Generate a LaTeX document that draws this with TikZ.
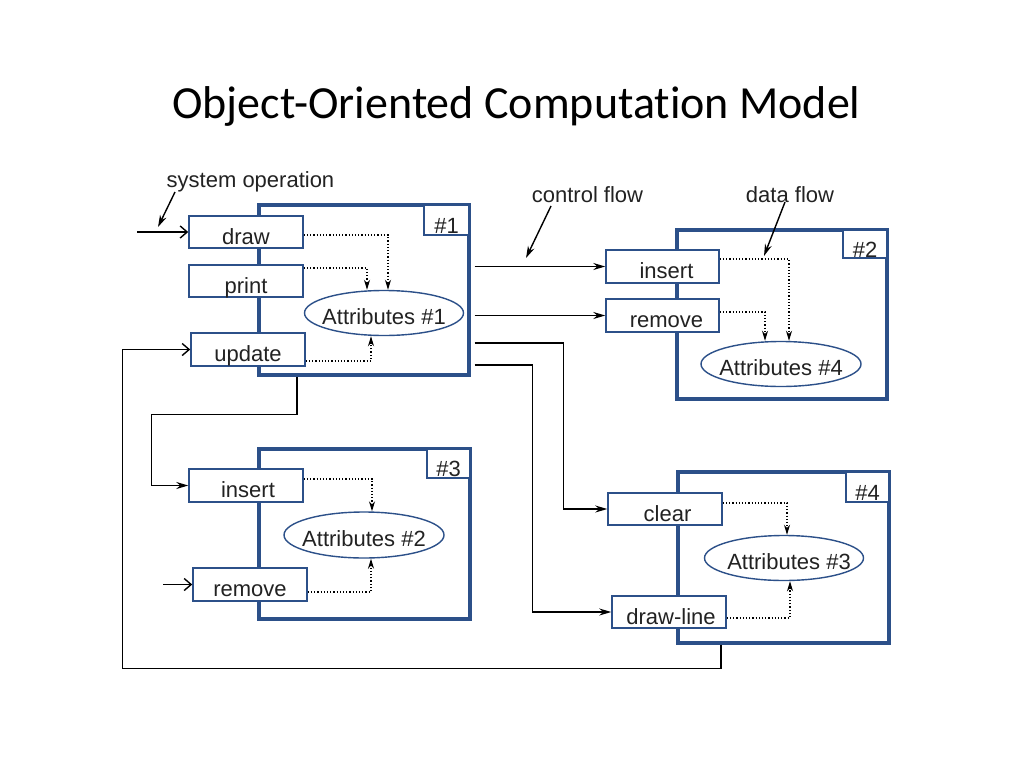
\documentclass[tikz,border=0pt]{standalone}
\usepackage{fontspec}
\setmainfont{Liberation Sans}
\newfontfamily\titlefont[Ligatures={NoCommon,NoRare}]{Carlito}
\usetikzlibrary{arrows.meta,calc,shapes.geometric}
\definecolor{frameblue}{HTML}{2C5089}
\definecolor{txt}{HTML}{222222}
\begin{document}
\begin{tikzpicture}[x=1pt,y=-1pt,
  lblfont/.style={font=\fontsize{22}{24}\selectfont},
  frm/.style={draw=frameblue,line width=3.2pt,rectangle,inner sep=0pt},
  tagbox/.style={draw=frameblue,line width=1.5pt,fill=white,inner sep=0pt,text height=26pt,text depth=0pt,lblfont,text=txt},
  op/.style={draw=frameblue,line width=1.5pt,fill=white,inner sep=0pt,minimum width=114pt,minimum height=32pt,text height=24pt,text depth=0pt,lblfont,text=txt},
  attr/.style={draw=frameblue,line width=1.4pt,ellipse,inner sep=0pt,minimum width=160pt,minimum height=45pt},
  attrtext/.style={inner sep=0pt,text height=22pt,text depth=0pt,lblfont,text=txt},
  cf/.style={line width=1.4pt,-{Stealth[length=12pt,width=7pt,inset=4pt]}},
  inp/.style={line width=1.4pt,-{Straight Barb[length=7pt,width=12pt]}},
  df/.style={line width=1.2pt,dotted,-{Stealth[length=10pt,width=6pt,inset=3pt]}},
  ann/.style={line width=1.4pt,-{Stealth[length=12pt,width=7pt,inset=4pt]}},
  lbl/.style={lblfont,text=txt,inner sep=0pt,anchor=base}]
\fill[white] (0,0) rectangle (1024,768);
\useasboundingbox (0,0) rectangle (1024,768);

\node[anchor=base,inner sep=0pt,font=\titlefont\fontsize{46}{50}\selectfont] (title) at (516.5,118) {Object-Oriented Computation Model};

% frames
\node[frm,minimum width=210pt,minimum height=170pt] (f1) at (364,290) {};
\node[frm,minimum width=210pt,minimum height=169pt] (f2) at (782,314.5) {};
\node[frm,minimum width=211pt,minimum height=170pt] (f3) at (364.5,534) {};
\node[frm,minimum width=211pt,minimum height=171pt] (f4) at (783.5,557.5) {};

% tags
\node[tagbox,minimum width=45pt,minimum height=30pt] (tag1) at (446.5,220) {\#1};
\node[tagbox,minimum width=44pt,minimum height=28pt] (tag2) at (865,244) {\#2};
\node[tagbox,minimum width=43pt,minimum height=29pt] (tag3) at (448.5,463.5) {\#3};
\node[tagbox,minimum width=43pt,minimum height=30pt] (tag4) at (867.5,487) {\#4};

% operations
\node[op] (o1draw) at (246,232) {draw};
\node[op] (o1print) at (246,281) {print};
\node[op,minimum height=33pt] (o1update) at (248,349.5) {update};
\node[op,minimum width=113pt,minimum height=33pt] (o2insert) at (662.5,266.5) {\hspace*{8pt}insert};
\node[op,minimum width=113pt,minimum height=33pt] (o2remove) at (662.5,315.5) {\hspace*{8pt}remove};
\node[op,minimum height=33pt] (o3insert) at (246,485.5) {\hspace*{4pt}insert};
\node[op,minimum height=33pt] (o3remove) at (250,584.5) {remove};
\node[op] (o4clear) at (665,509) {\hspace*{5pt}clear};
\node[op] (o4drawline) at (669,612) {\hspace*{4pt}draw-line};

% attributes
\node[attr,minimum width=159pt] (a1) at (384,313) {};
\node[attrtext] (a1t) at (a1) {Attributes \#1};
\node[attr] (a4) at (781,364) {};
\node[attrtext] (a4t) at (a4) {Attributes \#4};
\node[attr,minimum height=46pt] (a2) at (364,535) {};
\node[attrtext] (a2t) at (a2) {Attributes \#2};
\node[attr,minimum width=159pt] (a3) at (784,558) {};
\node[attrtext] (a3t) at ([xshift=5pt]a3.center) {Attributes \#3};

% data flow (dotted)
\draw[df] ([yshift=-3pt]o1draw.east) -| ([xshift=4pt]a1.north);
\draw[df] ([yshift=13pt]o1print.east) -| ([xshift=-17pt]a1.north);
\draw[df] ([yshift=-11.5pt]o1update.east) -| ([xshift=-13pt]a1.south);
\draw[df] ([yshift=7.5pt]o2insert.east) -| ([xshift=8pt]a4.north);
\draw[df] ([yshift=3.5pt]o2remove.east) -| ([xshift=-16pt]a4.north);
\draw[df] ([yshift=6.5pt]o3insert.east) -| ([xshift=8pt]a2.north);
\draw[df] ([yshift=-7.5pt]o3remove.east) -| ([xshift=7pt]a2.south);
\draw[df] ([yshift=6pt]o4clear.east) -| ([xshift=3pt]a3.north);
\draw[df] ([yshift=-6pt]o4drawline.east) -| ([xshift=6pt]a3.south);

% control flow
\draw[cf] ($(f1.east |- o2insert.west)+(4,0)$) -- (o2insert.west);
\draw[cf] ($(f1.east |- o2remove.west)+(4,0)$) -- (o2remove.west);
\draw[cf] ($(f1.east)+(4,53)$) -| ($(o4clear.west)+(-44,0)$) -- (o4clear.west);
\draw[cf] ($(f1.east)+(4,75)$) -| ($(o4drawline.west)+(-79,0)$) -- (o4drawline.west);
\draw[cf] ($(f1.south)+(-67,0)$) -- ++(0,38) -| ($(o3insert.west)+(-37,0)$) -- (o3insert.west);
\draw[inp] ($(f4.south)+(-62.5,0)$) -- ++(0,24) -| ($(o1update.west)+(-68,0)$) -- (o1update.west);

% external inputs
\coordinate (sysin) at (137,232);
\draw[inp] (sysin) -- (o1draw.west);
\coordinate (remin) at (163,584.5);
\draw[inp] (remin) -- (o3remove.west);

% annotations
\node[lbl] (sysop) at (250.5,187) {system operation};
\coordinate (sysopA) at (175,192);
\coordinate (sysopB) at (158,227);
\draw[ann] (sysopA) -- (sysopB);
\node[lbl] (ctrl) at (587.5,202) {control flow};
\coordinate (ctrlA) at (551,206);
\coordinate (ctrlB) at (526,258);
\draw[ann] (ctrlA) -- (ctrlB);
\node[lbl] (data) at (790,202) {data flow};
\coordinate (dataA) at (785,202);
\coordinate (dataB) at (764,256);
\draw[ann] (dataA) -- (dataB);
\end{tikzpicture}
\end{document}
